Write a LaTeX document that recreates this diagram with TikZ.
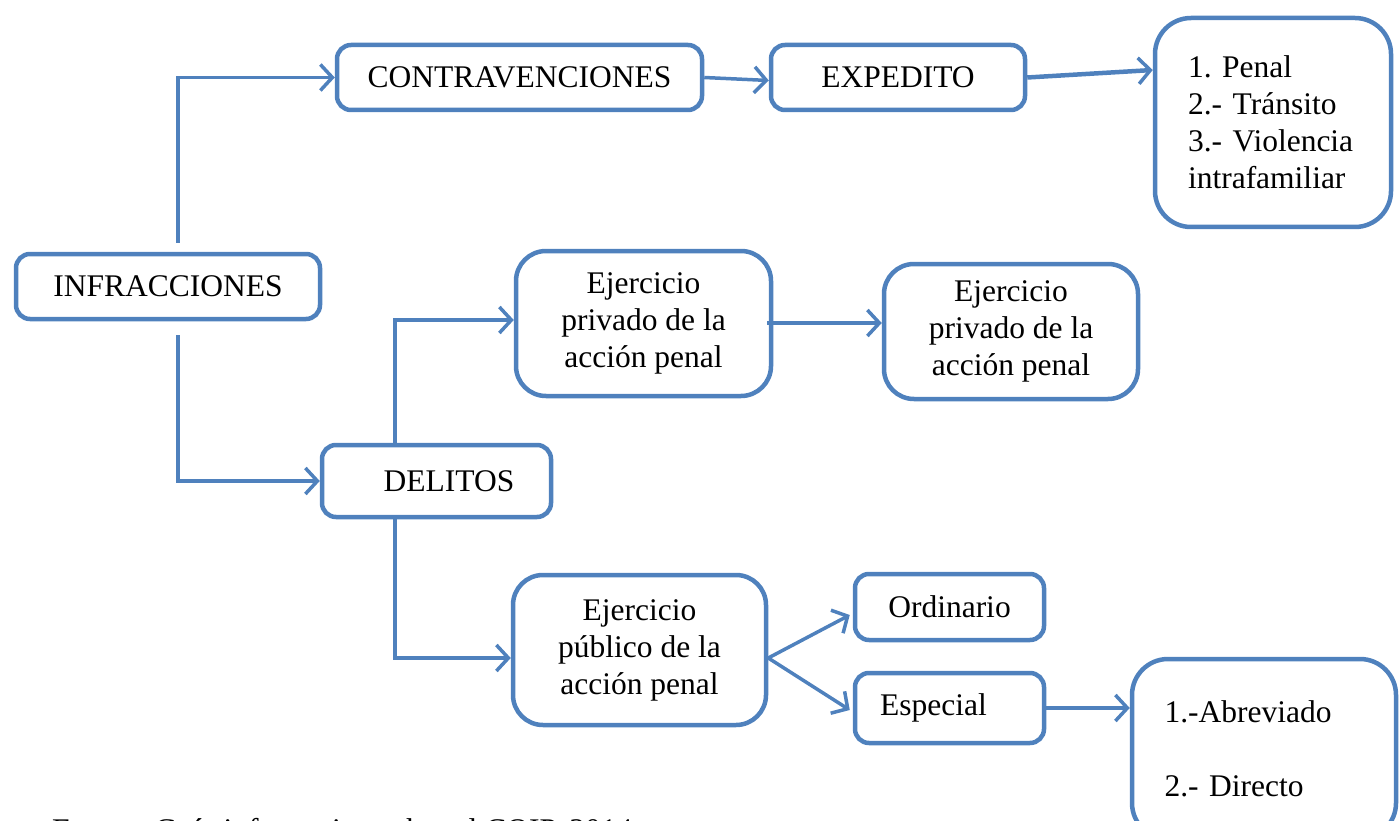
\documentclass[tikz,border=0pt]{standalone}
\usepackage{fontspec}
\setmainfont{Liberation Serif}
\usetikzlibrary{arrows.meta}
\definecolor{bl}{HTML}{4F81BD}
\frenchspacing
\begin{document}
\begin{tikzpicture}[x=1pt,y=-1pt,
  box/.style={draw=bl,line width=4.5pt,rounded corners=14pt,inner sep=0pt,
    font=\fontsize{31.5}{37}\selectfont\frenchspacing,align=center},
  bigbox/.style={box,rounded corners=30pt},
  conn/.style={draw=bl,line width=3.5pt,
    -{Straight Barb[length=12pt,width=26pt,line width=3.5pt]}}
]
\useasboundingbox (0,0) rectangle (1400,821);
\clip (0,0) rectangle (1400,821);

\node[box,minimum width=304pt,minimum height=65pt] (infra) at (168,286.5) {INFRACCIONES};
\node[box,minimum width=365pt,minimum height=65pt] (contra) at (519.5,77.5) {CONTRAVENCIONES};
\node[box,minimum width=254pt,minimum height=65pt] (exped) at (898,77.5) {EXPEDITO};
\node[bigbox,rounded corners=36pt,minimum width=236pt,minimum height=209pt,
  text width=170pt,inner xsep=33pt,align=left] (lista) at (1273,122.5)
  {1. Penal\\2.- Tránsito\\3.- Violencia\\intrafamiliar};
\node[bigbox,minimum width=255pt,minimum height=145pt] (priv1) at (643.5,323.5)
  {Ejercicio\\privado de la\\acción penal};
\node[bigbox,minimum width=254pt,minimum height=135pt] (priv2) at (1011,331.5)
  {Ejercicio\\privado de la\\acción penal};
\node[box,minimum width=229pt,minimum height=72pt] (delitos) at (436.5,481) {\hspace*{25pt}DELITOS};
\node[bigbox,minimum width=253pt,minimum height=150pt] (pub) at (639.5,650)
  {Ejercicio\\público de la\\acción penal};
\node[box,minimum width=189pt,minimum height=66pt] (ord) at (949.5,607) {Ordinario};
\node[box,minimum width=189pt,minimum height=70pt] (esp) at (949.5,708) {Especial\hspace*{32pt}};
\node[bigbox,rounded corners=36pt,minimum width=264pt,minimum height=180pt,
  text width=199pt,inner xsep=32pt,align=left] (abrev) at (1264,749)
  {1.-Abreviado\\[37pt]2.- Directo};

\node[anchor=base west,inner sep=0pt,font=\fontsize{31.5}{37}\selectfont] (fuente) at (52,840)
  {Fuente: Guía informativa sobre el COIP, 2014};

\draw[conn] ([xshift=10pt,yshift=9pt]infra.north) |- (contra.west);
\draw[conn] ([xshift=10pt,yshift=-14pt]infra.south) |- (delitos.west);
\draw[conn] (contra.east) -- ([yshift=-3pt]exped.west);
\draw[conn,line width=4.5pt] (exped.east) -- ([yshift=52.5pt]lista.west);
\draw[conn] ([xshift=-41.5pt]delitos.north) |- ([yshift=3.5pt]priv1.west);
\draw[conn] ([xshift=-41.5pt]delitos.south) |- ([yshift=-8pt]pub.west);
\draw[conn] ([xshift=-6pt,yshift=0.5pt]priv1.east) -- ([yshift=8.5pt]priv2.west);
\coordinate (fork) at ([yshift=-8pt]pub.east);
\draw[conn] (fork) -- ([xshift=-3pt,yshift=-8pt]ord.west);
\draw[conn] (fork) -- ([xshift=-3pt,yshift=-2pt]esp.west);
\draw[conn] (esp.east) -- (abrev.west |- esp.east);
\end{tikzpicture}
\end{document}
